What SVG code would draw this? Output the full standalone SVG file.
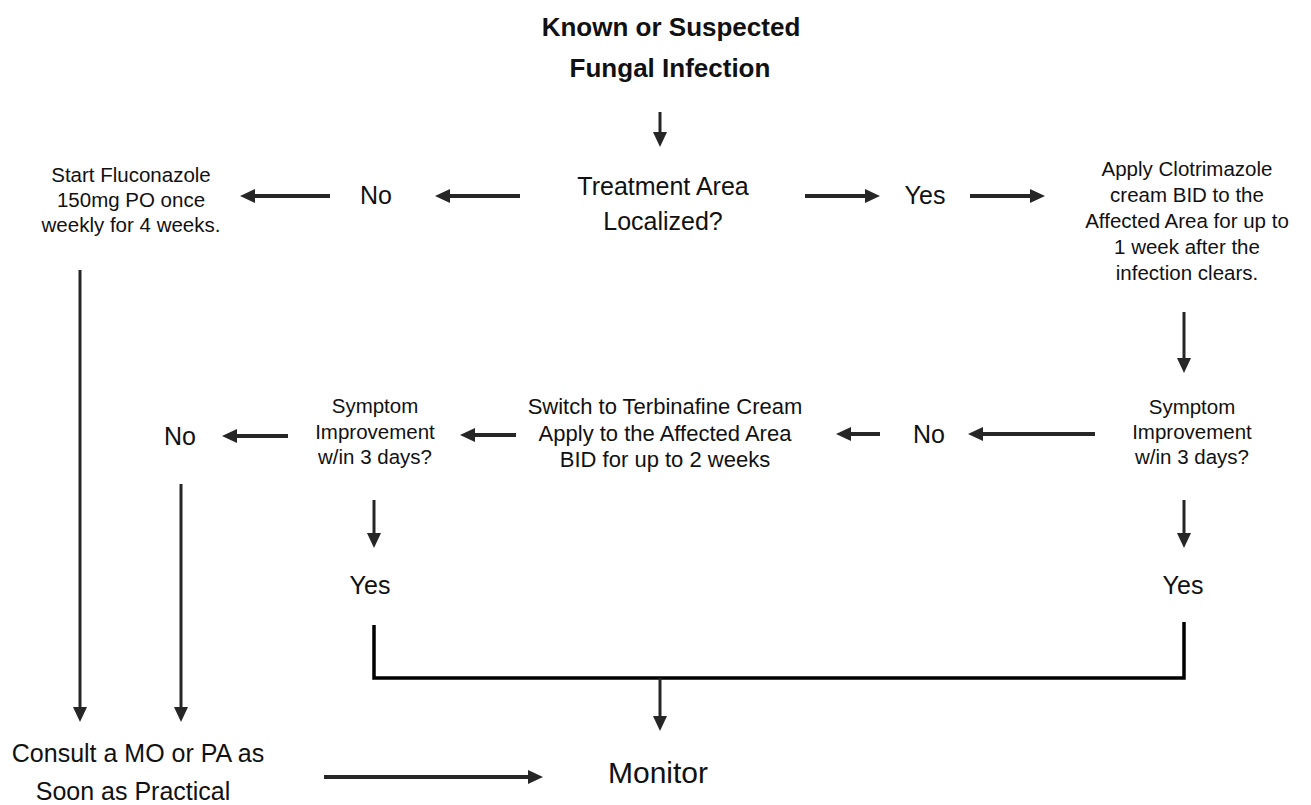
<svg xmlns="http://www.w3.org/2000/svg" width="1311" height="805" viewBox="0 0 1311 805">
<style>
text{font-family:"Liberation Sans",Arial,sans-serif;fill:#111;text-anchor:middle}
.t{font-weight:bold;font-size:26px}
.s{font-size:20.5px}
.m{font-size:22px}
.l{font-size:25px}
.x{font-size:30px}
.c{stroke:#262626;stroke-width:4;fill:none}
.cv{stroke:#262626;stroke-width:3;fill:none}
.b{stroke:#000;stroke-width:3.5;fill:none}
</style>
<defs>
<marker id="ah" markerUnits="userSpaceOnUse" markerWidth="16" markerHeight="16" viewBox="0 -8 16 16" refX="1" refY="0" orient="auto">
<path d="M0,-7 L15,0 L0,7 z" fill="#262626"/>
</marker>
</defs>
<rect width="1311" height="805" fill="#fff"/>
<g id="title"><text class="t" x="671" y="36">Known or Suspected</text><text class="t" x="670" y="77">Fungal Infection</text></g>
<g id="treatment"><text class="l" x="663" y="195">Treatment Area</text><text class="l" x="663" y="230">Localized?</text></g>
<g id="no1"><text class="l" x="376" y="204">No</text></g>
<g id="yes1"><text class="l" x="925" y="204">Yes</text></g>
<g id="fluconazole"><text class="s" x="131" y="182">Start Fluconazole</text><text class="s" x="131" y="207">150mg PO once</text><text class="s" x="131" y="232">weekly for 4 weeks.</text></g>
<g id="clotrimazole"><text class="s" x="1187" y="176">Apply Clotrimazole</text><text class="s" x="1187" y="202">cream BID to the</text><text class="s" x="1187" y="228">Affected Area for up to</text><text class="s" x="1187" y="254">1 week after the</text><text class="s" x="1187" y="280">infection clears.</text></g>
<g id="symptom2"><text class="s" x="1192" y="414">Symptom</text><text class="s" x="1192" y="439">Improvement</text><text class="s" x="1192" y="464">w/in 3 days?</text></g>
<g id="no2"><text class="l" x="929" y="443">No</text></g>
<g id="terbinafine"><text class="m" x="665" y="414">Switch to Terbinafine Cream</text><text class="m" x="665" y="441">Apply to the Affected Area</text><text class="m" x="665" y="467">BID for up to 2 weeks</text></g>
<g id="symptom1"><text class="s" x="375" y="413">Symptom</text><text class="s" x="375" y="439">Improvement</text><text class="s" x="375" y="464">w/in 3 days?</text></g>
<g id="no3"><text class="l" x="180" y="445">No</text></g>
<g id="yes2"><text class="l" x="370" y="594">Yes</text></g>
<g id="yes3"><text class="l" x="1183" y="594">Yes</text></g>
<g id="consult"><text class="l" x="138" y="762">Consult a MO or PA as</text><text class="l" x="133" y="800">Soon as Practical</text></g>
<g id="monitor"><text class="x" x="658" y="783">Monitor</text></g>
<g id="connectors">
<line class="cv" x1="660" y1="112" x2="660" y2="133" marker-end="url(#ah)"/>
<line class="c" x1="520" y1="196" x2="449" y2="196" marker-end="url(#ah)"/>
<line class="c" x1="330" y1="196" x2="254" y2="196" marker-end="url(#ah)"/>
<line class="c" x1="805" y1="196" x2="866" y2="196" marker-end="url(#ah)"/>
<line class="c" x1="970" y1="196" x2="1031" y2="196" marker-end="url(#ah)"/>
<line class="cv" x1="1184" y1="312" x2="1184" y2="359" marker-end="url(#ah)"/>
<line class="c" x1="1095" y1="434" x2="982" y2="434" marker-end="url(#ah)"/>
<line class="c" x1="880" y1="434" x2="850" y2="434" marker-end="url(#ah)"/>
<line class="c" x1="516" y1="435" x2="474" y2="435" marker-end="url(#ah)"/>
<line class="c" x1="288" y1="436" x2="236" y2="436" marker-end="url(#ah)"/>
<line class="cv" x1="374" y1="500" x2="374" y2="534" marker-end="url(#ah)"/>
<line class="cv" x1="1184" y1="500" x2="1184" y2="534" marker-end="url(#ah)"/>
<polyline class="b" points="374,625 374,678 1184,678 1184,622"/>
<line class="cv" x1="660" y1="678" x2="660" y2="717" marker-end="url(#ah)"/>
<line class="cv" x1="80" y1="270" x2="80" y2="708" marker-end="url(#ah)"/>
<line class="cv" x1="181" y1="484" x2="181" y2="708" marker-end="url(#ah)"/>
<line class="c" x1="324" y1="777" x2="529" y2="777" marker-end="url(#ah)"/>
</g>
</svg>
